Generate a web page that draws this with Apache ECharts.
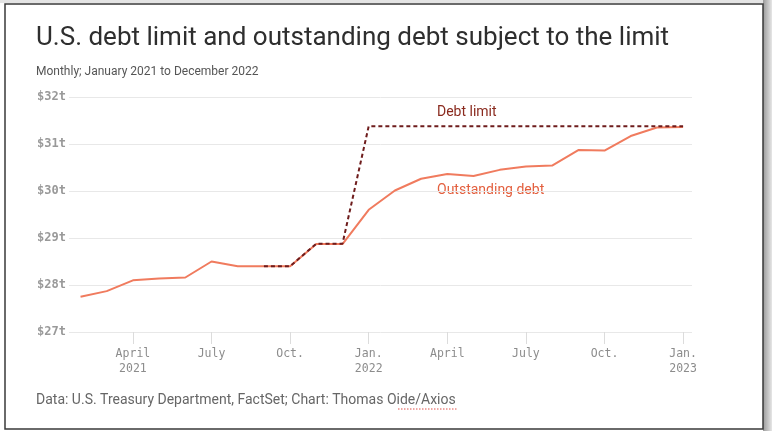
<!DOCTYPE html>
<html>
<head>
<meta charset="utf-8">
<script src="https://cdn.jsdelivr.net/npm/echarts@6.0.0/dist/echarts.min.js"></script>
<style>
html,body{margin:0;padding:0;background:#fff;}
#c{width:772px;height:431px;}
</style>
</head>
<body>
<div id="c"></div>
<script>
// Month-end points, Jan 2021 .. Dec 2022 (x = month index, 1 = end of Jan 2021)
const months = ['Jan 2021','Feb 2021','Mar 2021','Apr 2021','May 2021','Jun 2021','Jul 2021','Aug 2021','Sep 2021','Oct 2021','Nov 2021','Dec 2021',
                'Jan 2022','Feb 2022','Mar 2022','Apr 2022','May 2022','Jun 2022','Jul 2022','Aug 2022','Sep 2022','Oct 2022','Nov 2022','Dec 2022'];
// Outstanding debt subject to the limit, $ trillions
const outstandingDebt = [27.75, 27.87, 28.10, 28.14, 28.16, 28.50, 28.40, 28.40, 28.40, 28.87, 28.87, 29.60,
                         30.01, 30.26, 30.36, 30.32, 30.45, 30.52, 30.54, 30.87, 30.86, 31.17, 31.35, 31.36];
// Debt limit, $ trillions (shown from Aug 2021)
const debtLimit = [null, null, null, null, null, null, null, 28.40, 28.40, 28.88, 28.88, 31.38,
                   31.38, 31.38, 31.38, 31.38, 31.38, 31.38, 31.38, 31.38, 31.38, 31.38, 31.38, 31.38];
// x tick positions (month index) and labels
const xTickValues = [3, 6, 9, 12, 15, 18, 21, 24];
const xTickLabels = ['April\n2021', 'July', 'Oct.', 'Jan.\n2022', 'April', 'July', 'Oct.', 'Jan.\n2023'];
const yTicks = [27, 28, 29, 30, 31, 32];

const chart = echarts.init(document.getElementById('c'), null, {renderer: 'canvas'});
const mono = '"DejaVu Sans Mono", "Liberation Mono", monospace';
const sans = 'Roboto, "Liberation Sans", sans-serif';

const debtData = outstandingDebt.map((v, i) => [i + 1, v]);
const limitData = debtLimit.map((v, i) => [i + 1, v]);

chart.setOption({
  animation: false,
  backgroundColor: '#fff',
  grid: {left: 69, right: 80, top: 97, bottom: 99, containLabel: false},
  xAxis: {
    type: 'value',
    min: 0.56,
    max: 24.34,
    splitLine: {show: false},
    axisLine: {show: false},
    axisTick: {show: true, length: 12, customValues: xTickValues, lineStyle: {color: '#dcdcdc', width: 1}},
    axisLabel: {
      customValues: xTickValues,
      margin: 15,
      color: '#8c8c8c',
      fontFamily: mono,
      fontSize: 11.5,
      lineHeight: 15,
      formatter: v => { const k = xTickValues.indexOf(Math.round(v)); return k >= 0 ? xTickLabels[k] : ''; }
    }
  },
  yAxis: {
    type: 'value',
    min: yTicks[0],
    max: yTicks[yTicks.length - 1],
    interval: 1,
    axisLine: {show: false},
    axisTick: {show: false},
    splitLine: {show: true, lineStyle: {color: '#e8e8e8', width: 1}},
    axisLabel: {margin: 3, color: '#999', fontFamily: mono, fontSize: 12, fontWeight: 'bold', formatter: v => '$' + v + 't'}
  },
  series: [
    {
      name: 'Outstanding debt',
      type: 'line',
      data: debtData,
      showSymbol: false,
      lineStyle: {color: '#f07b5e', width: 2},
      z: 2
    },
    {
      name: 'Debt limit',
      type: 'line',
      data: limitData,
      connectNulls: false,
      showSymbol: false,
      lineStyle: {color: '#6e1c1c', width: 2, type: [4, 3]},
      z: 3
    }
  ],
  graphic: [
    {type: 'rect', shape: {x: 763, y: 0, width: 9, height: 431}, style: {fill: new echarts.graphic.LinearGradient(0, 0, 1, 0, [{offset: 0, color: '#9a9a9a'}, {offset: 1, color: '#e6e6e6'}])}, silent: true},
    {type: 'rect', shape: {x: 0, y: 0, width: 763, height: 3}, style: {fill: '#e4e4e4'}, silent: true},
    {type: 'rect', shape: {x: 5, y: 4, width: 758, height: 425}, style: {fill: 'none', stroke: '#3a3a3a', lineWidth: 1.5}, silent: true},
    {type: 'text', left: 36, top: 25, style: {text: 'U.S. debt limit and outstanding debt subject to the limit', fill: '#2e2e2e', font: '26px ' + sans}},
    {type: 'text', left: 36, top: 66, style: {text: 'Monthly; January 2021 to December 2022', fill: '#555', font: '12px ' + sans}},
    {type: 'text', left: 437, top: 105, style: {text: 'Debt limit', fill: '#8a2a1e', font: '14px ' + sans}},
    {type: 'text', left: 437, top: 183, style: {text: 'Outstanding debt', fill: '#e35f3e', font: '14px ' + sans}},
    {type: 'text', left: 36, top: 393, style: {text: 'Data: U.S. Treasury Department, FactSet; Chart: Thomas Oide/Axios', fill: '#666', font: '14px ' + sans}},
    {type: 'polyline', shape: {points: [[398, 409], [457, 409]]}, style: {stroke: '#e0504a', lineWidth: 1, lineDash: [1.5, 1.5]}, silent: true}
  ]
});
</script>
</body>
</html>
